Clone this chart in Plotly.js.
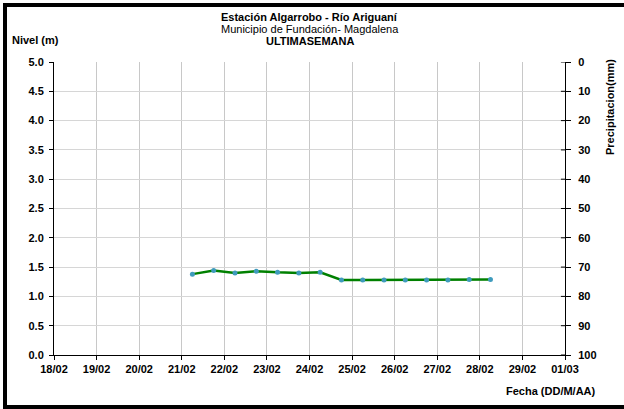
<!DOCTYPE html>
<html>
<head>
<meta charset="utf-8">
<script src="https://cdn.plot.ly/plotly-3.0.1.min.js"></script>
<style>
  html, body { margin: 0; padding: 0; background: #fff; }
  #wrap { position: relative; width: 624px; height: 409px; overflow: hidden; }
  #chart { position: absolute; left: 0; top: 0; width: 624px; height: 409px; }
  #frame { position: absolute; left: 3px; top: 3px; width: 700px; height: 398px; border: 4px solid #000; pointer-events: none; }
</style>
</head>
<body>
<div id="wrap"><div id="chart"></div><div id="frame"></div></div>
<script>
var fechas = [
  "2024-02-21 06:00", "2024-02-21 18:00", "2024-02-22 06:00", "2024-02-22 18:00",
  "2024-02-23 06:00", "2024-02-23 18:00", "2024-02-24 06:00", "2024-02-24 18:00",
  "2024-02-25 06:00", "2024-02-25 18:00", "2024-02-26 06:00", "2024-02-26 18:00",
  "2024-02-27 06:00", "2024-02-27 18:00", "2024-02-28 06:00"
];
var nivel = [1.38, 1.44, 1.40, 1.43, 1.41, 1.40, 1.41, 1.28, 1.28, 1.28, 1.28, 1.28, 1.28, 1.29, 1.29];
var tituloLineas = ["<b>Estación Algarrobo - Río Ariguaní</b>", "Municipio de Fundación- Magdalena", "<b>ULTIMASEMANA</b>"];
var precipTicks = [0, 10, 20, 30, 40, 50, 60, 70, 80, 90, 100];

var F = "Liberation Sans, Arial, sans-serif";

var traces = [
  {
    x: fechas, y: nivel, type: "scatter", mode: "lines+markers",
    line: { color: "#008000", width: 2.5 },
    marker: { color: "#3f9bbd", size: 5 },
    showlegend: false, hoverinfo: "skip"
  },
  {
    x: [fechas[0]], y: [null], yaxis: "y2", type: "scatter", mode: "lines",
    showlegend: false, hoverinfo: "skip"
  }
];

var layout = {
  width: 624, height: 409,
  margin: { l: 54, r: 59, t: 62, b: 54 },
  paper_bgcolor: "#fff", plot_bgcolor: "#fff",
  font: { family: F, size: 11, color: "#000" },
  xaxis: {
    type: "date",
    range: ["2024-02-18", "2024-03-01"],
    dtick: 86400000, tick0: "2024-02-18",
    tickformat: "%d/%m",
    showgrid: true, gridcolor: "#c8c8c8", gridwidth: 1,
    showline: true, linecolor: "#000", linewidth: 1,
    ticks: "outside", ticklen: 4, tickcolor: "#000",
    tickfont: { family: F, size: 11, color: "#000", weight: "bold" },
    zeroline: false
  },
  yaxis: {
    range: [0, 5], dtick: 0.5, tickformat: ".1f",
    showgrid: true, gridcolor: "#d6d6d6", gridwidth: 1,
    showline: true, linecolor: "#000", linewidth: 1,
    ticks: "outside", ticklen: 4, tickcolor: "#000",
    ticklabelstandoff: 3,
    tickfont: { family: F, size: 11, color: "#000", weight: "bold" },
    zeroline: false
  },
  yaxis2: {
    overlaying: "y", side: "right",
    range: [100, 0], tickvals: precipTicks,
    showgrid: false,
    showline: true, linecolor: "#000", linewidth: 1,
    ticks: "outside", ticklen: 5, tickcolor: "#000",
    ticklabelstandoff: 5,
    tickfont: { family: F, size: 11, color: "#000", weight: "bold" },
    zeroline: false
  },
  shapes: precipTicks.map(function (v) {
    return { type: "line", xref: "paper", yref: "y2", x0: 1, x1: 0.992, y0: v, y1: v,
             line: { color: "#000", width: 1 } };
  }),
  annotations: [
    { text: tituloLineas[0], xref: "paper", yref: "paper", x: 0.5, y: 1, yshift: 45,
      showarrow: false, xanchor: "center", yanchor: "middle", font: { family: F, size: 11 } },
    { text: tituloLineas[1], xref: "paper", yref: "paper", x: 0.5, y: 1, yshift: 33,
      showarrow: false, xanchor: "center", yanchor: "middle", font: { family: F, size: 11 } },
    { text: tituloLineas[2], xref: "paper", yref: "paper", x: 0.5, y: 1, yshift: 21,
      showarrow: false, xanchor: "center", yanchor: "middle", font: { family: F, size: 11 } },
    { text: "<b>Nivel (m)</b>", xref: "paper", yref: "paper", x: 0, xshift: -44, y: 1, yshift: 22,
      showarrow: false, xanchor: "left", yanchor: "middle", font: { family: F, size: 11 } },
    { text: "<b>Fecha (DD/M/AA)</b>", xref: "paper", yref: "paper", x: 1, xshift: 33, y: 0, yshift: -36,
      showarrow: false, xanchor: "right", yanchor: "middle", font: { family: F, size: 11 } },
    { text: "<b>Precipitacion(mm)</b>", xref: "paper", yref: "paper", x: 1, xshift: 45, y: 1, yshift: -45,
      showarrow: false, xanchor: "center", yanchor: "middle", textangle: -90, font: { family: F, size: 11 } }
  ]
};

Plotly.newPlot("chart", traces, layout, { staticPlot: true, displayModeBar: false });
</script>
</body>
</html>
